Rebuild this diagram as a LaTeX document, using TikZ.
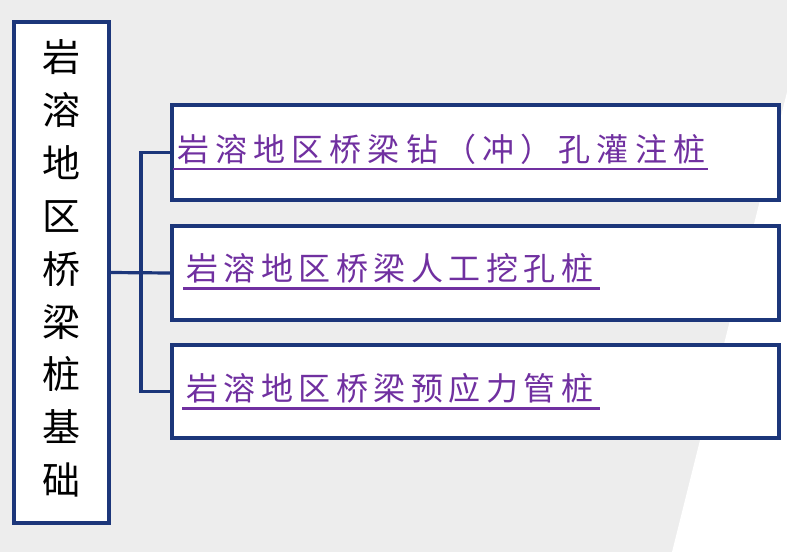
\documentclass[tikz,border=0pt]{standalone}
\usepackage{fontspec}
\newfontfamily\cjk{Noto Sans CJK SC}
\definecolor{bgray}{RGB}{237,237,237}
\definecolor{navy}{RGB}{28,54,122}
\definecolor{lpurple}{RGB}{112,48,160}
\tikzset{
  boxstyle/.style={draw=navy, line width=3.4pt, fill=white, rectangle, inner sep=0pt},
  conn/.style={draw=navy, line width=3.2pt},
  itemtext/.style={anchor=base west, inner sep=0pt, text=lpurple, font=\cjk\fontsize{32}{32}\selectfont},
  lefttext/.style={inner sep=0pt, align=center, text=black, font=\cjk\fontsize{38}{52.9}\selectfont},
  uline/.style={draw=lpurple, line width=2.5pt}
}
\begin{document}
\begin{tikzpicture}[x=1pt,y=-1pt]
\useasboundingbox (0,0) rectangle (787,552);
% background
\fill[bgray] (0,0) rectangle (787,552);
\fill[white] (672,552) -- (787,552) -- (787,92) -- cycle;
% left box
\node[boxstyle, minimum width=95pt, minimum height=501pt] (L) at (61.5,272.5) {};
\node[lefttext] (Ltxt) at (61.5,268.5) {岩\\溶\\地\\区\\桥\\梁\\桩\\基\\础};
% right boxes
\node[boxstyle, minimum width=607pt, minimum height=95pt] (B1) at (475.5,152.5) {};
\node[boxstyle, minimum width=607pt, minimum height=94pt] (B2) at (475.5,273) {};
\node[boxstyle, minimum width=607pt, minimum height=93pt] (B3) at (475.5,391.5) {};
% texts
\node[itemtext] (T1) at (177,161) {\hbox to 528pt{岩\hfill 溶\hfill 地\hfill 区\hfill 桥\hfill 梁\hfill 钻\hfill （\hfill 冲\hfill ）\hfill 孔\hfill 灌\hfill 注\hfill 桩}};
\node[itemtext] (T2) at (186,280.5) {\hbox to 407pt{岩\hfill 溶\hfill 地\hfill 区\hfill 桥\hfill 梁\hfill 人\hfill 工\hfill 挖\hfill 孔\hfill 桩}};
\node[itemtext] (T3) at (186,400.5) {\hbox to 407pt{岩\hfill 溶\hfill 地\hfill 区\hfill 桥\hfill 梁\hfill 预\hfill 应\hfill 力\hfill 管\hfill 桩}};
% underlines
\draw[uline] ([xshift=-4pt,yshift=-8pt]T1.base west) -- ([xshift=3pt,yshift=-8pt]T1.base east);
\draw[uline] ([xshift=-3pt,yshift=-8pt]T2.base west) -- ([xshift=7pt,yshift=-8pt]T2.base east);
\draw[uline] ([xshift=-4pt,yshift=-8pt]T3.base west) -- ([xshift=7pt,yshift=-8pt]T3.base east);
% connectors
\coordinate (J) at (141,272.5);
\draw[conn] (L.east) -- (B2.west);
\draw[conn] (B1.west) -| (J) |- (B3.west);
\end{tikzpicture}
\end{document}
